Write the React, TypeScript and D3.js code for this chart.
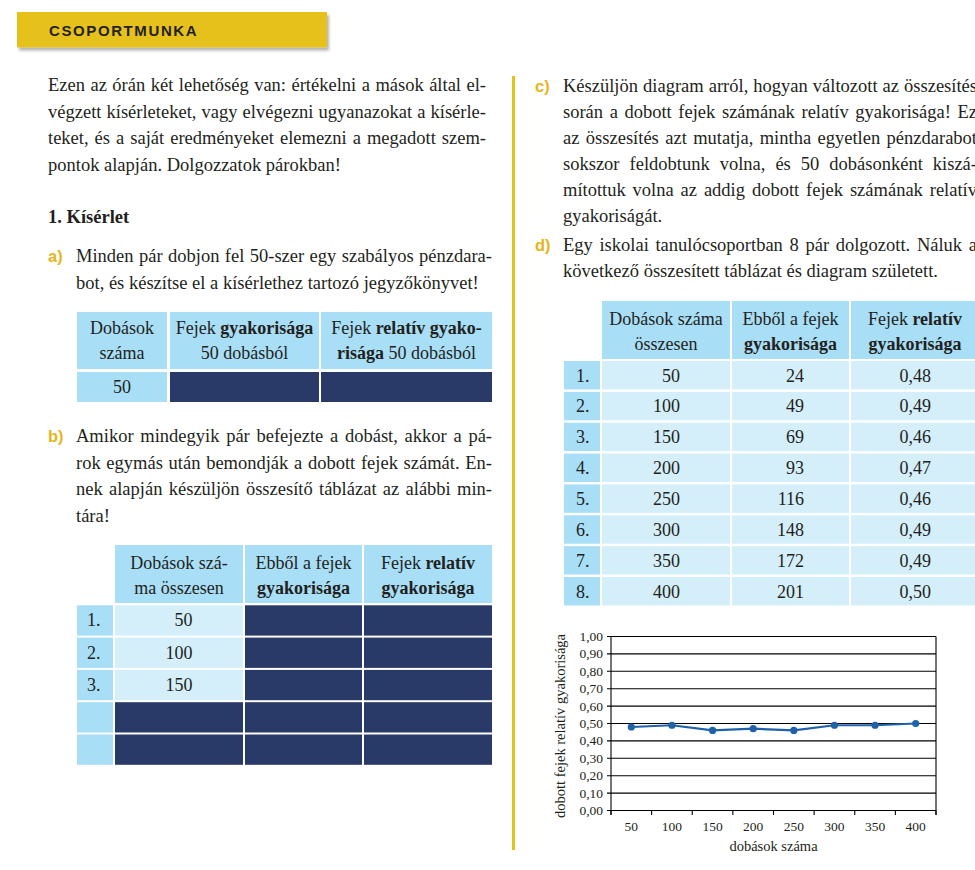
import React from 'react';
import * as d3 from 'd3';

// ---------- data ----------
const totals = [50, 100, 150, 200, 250, 300, 350, 400];
const heads = [24, 49, 69, 93, 116, 148, 172, 201];
const relFreq = [0.48, 0.49, 0.46, 0.47, 0.46, 0.49, 0.49, 0.5];
const rowLabels = ['1.', '2.', '3.', '4.', '5.', '6.', '7.', '8.'];
const practiceTotals = [50, 100, 150];
const yTickValues = d3.range(0, 11).map((i) => i / 10);
const yAxisTitle = 'dobott fejek relatív gyakorisága';
const xAxisTitle = 'dobások száma';

const introLines = [
  'Ezen az órán két lehetőség van: értékelni a mások által el-',
  'végzett kísérleteket, vagy elvégezni ugyanazokat a kísérle-',
  'teket, és a saját eredményeket elemezni a megadott szem-',
  'pontok alapján. Dolgozzatok párokban!',
];
const aLines = [
  'Minden pár dobjon fel 50-szer egy szabályos pénzdara-',
  'bot, és készítse el a kísérlethez tartozó jegyzőkönyvet!',
];
const bLines = [
  'Amikor mindegyik pár befejezte a dobást, akkor a pá-',
  'rok egymás után bemondják a dobott fejek számát. En-',
  'nek alapján készüljön összesítő táblázat az alábbi min-',
  'tára!',
];
const cLines = [
  'Készüljön diagram arról, hogyan változott az összesítés',
  'során a dobott fejek számának relatív gyakorisága! Ez',
  'az összesítés azt mutatja, mintha egyetlen pénzdarabot',
  'sokszor feldobtunk volna, és 50 dobásonként kiszá-',
  'mítottuk volna az addig dobott fejek számának relatív',
  'gyakoriságát.',
];
const dLines = [
  'Egy iskolai tanulócsoportban 8 pár dolgozott. Náluk a',
  'következő összesített táblázat és diagram született.',
];

// ---------- styles ----------
const SERIF = "'Liberation Serif', 'Times New Roman', serif";
const SANS = "'Liberation Sans', Arial, sans-serif";
const BODY = 18.5;
const TEXT = '#231f20';
const HEAD_BG = '#a8def6';
const LIGHT_BG = '#d4eefa';
const NAVY = '#2a3a68';
const YELLOW = '#e6c11e';
const LABEL_Y = '#e8b41c';
const BLUE = '#1f62aa';

const canvas = typeof document !== 'undefined' ? document.createElement('canvas') : null;
const ctx = canvas ? canvas.getContext('2d') : null;
function measure(t: string, font: string) {
  if (!ctx) return t.length * 8;
  ctx.font = font;
  return ctx.measureText(t).width;
}

function Para({ lines, x, right, baselines, keyp }: any) {
  const font = `${BODY}px ${SERIF}`;
  const sp = measure(' ', font);
  const out: any[] = [];
  lines.forEach((line: string, i: number) => {
    const words = line.split(' ');
    const ws = words.map((w) => measure(w, font));
    const sum = d3.sum(ws);
    const justify = i < lines.length - 1 && words.length > 1;
    const gap = justify ? (right - x - sum) / (words.length - 1) : sp;
    let cx = x;
    words.forEach((w, j) => {
      out.push(
        <text key={`${keyp}-${i}-${j}`} x={cx} y={baselines[i]} fontFamily={SERIF} fontSize={BODY} fill={TEXT}>
          {w}
        </text>
      );
      cx += ws[j] + gap;
    });
  });
  return <g>{out}</g>;
}

type Seg = { t: string; b?: boolean };
function HeaderText({ cx, baselines, lines }: { cx: number; baselines: number[]; lines: Seg[][] }) {
  return (
    <g>
      {lines.map((segs, i) => (
        <text key={i} x={cx} y={baselines[i]} textAnchor="middle" fontFamily={SERIF} fontSize={18} fill={TEXT}>
          {segs.map((s, j) => (
            <tspan key={j} fontWeight={s.b ? 'bold' : 'normal'}>
              {s.t}
            </tspan>
          ))}
        </text>
      ))}
    </g>
  );
}

const fmt = (v: number) => d3.format('.2f')(v).replace('.', ',');

export default function App() {
  // ---------- chart ----------
  const x = d3.scaleBand<string>().domain(totals.map(String)).range([611, 936]).padding(0);
  const y = d3.scaleLinear().domain([0, 1]).range([810.5, 636.5]);
  const bw = x.bandwidth();
  const pts = totals.map((t, i) => ({ t, v: relFreq[i] }));
  const lineGen = d3
    .line<{ t: number; v: number }>()
    .x((d) => (x(String(d.t)) as number) + bw / 2)
    .y((d) => y(d.v));
  const xTickPos = [...totals.map((t) => x(String(t)) as number), 936];

  // ---------- tables ----------
  const t1Cols = [
    [77, 167],
    [170, 319],
    [321, 492],
  ];
  const t2Cols = [
    [77, 113],
    [115, 243],
    [245, 362],
    [364, 492],
  ];
  const t3Cols = [
    [564, 600],
    [602, 730],
    [732, 849],
    [851, 990],
  ];
  const cxOf = (c: number[]) => (c[0] + c[1]) / 2;

  return (
    <div style={{ position: 'absolute', left: 0, top: 0 }}>
      <svg width={975} height={870} style={{ display: 'block', background: '#fff' }}>
        <defs>
          <filter id="sh" x="-5%" y="-20%" width="115%" height="160%">
            <feDropShadow dx="2" dy="3" stdDeviation="1.6" floodColor="#000" floodOpacity="0.3" />
          </filter>
        </defs>

        {/* title box */}
        <rect x={17} y={12} width={310} height={35.5} fill={YELLOW} filter="url(#sh)" />
        <text x={49} y={35.7} fontFamily={SANS} fontWeight="bold" fontSize={15} letterSpacing={1.6} fill="#231f20">
          CSOPORTMUNKA
        </text>

        {/* left column text */}
        <Para keyp="intro" lines={introLines} x={48} right={486} baselines={[91, 117.5, 144, 170.5]} />
        <text x={48} y={223} fontFamily={SERIF} fontWeight="bold" fontSize={BODY} fill={TEXT}>
          1. Kísérlet
        </text>
        <text x={48} y={262} fontFamily={SANS} fontWeight="bold" fontSize={16.5} fill={LABEL_Y}>
          a)
        </text>
        <Para keyp="a" lines={aLines} x={76} right={492} baselines={[262, 288.5]} />
        <text x={48} y={442} fontFamily={SANS} fontWeight="bold" fontSize={16.5} fill={LABEL_Y}>
          b)
        </text>
        <Para keyp="b" lines={bLines} x={76} right={492} baselines={[442, 468.5, 495, 521.5]} />

        {/* table 1 */}
        <g>
          {t1Cols.map((c, i) => (
            <rect key={'h' + i} x={c[0]} y={312} width={c[1] - c[0]} height={57} fill={HEAD_BG} />
          ))}
          {t1Cols.map((c, i) => (
            <rect key={'r' + i} x={c[0]} y={372} width={c[1] - c[0]} height={30} fill={i === 0 ? HEAD_BG : NAVY} />
          ))}
          <HeaderText cx={cxOf(t1Cols[0])} baselines={[334, 359]} lines={[[{ t: 'Dobások' }], [{ t: 'száma' }]]} />
          <HeaderText
            cx={cxOf(t1Cols[1])}
            baselines={[334, 359]}
            lines={[[{ t: 'Fejek ' }, { t: 'gyakorisága', b: true }], [{ t: '50 dobásból' }]]}
          />
          <HeaderText
            cx={cxOf(t1Cols[2])}
            baselines={[334, 359]}
            lines={[
              [{ t: 'Fejek ' }, { t: 'relatív gyako-', b: true }],
              [{ t: 'risága', b: true }, { t: ' 50 dobásból' }],
            ]}
          />
          <text x={cxOf(t1Cols[0])} y={393} textAnchor="middle" fontFamily={SERIF} fontSize={18} fill={TEXT}>
            {practiceTotals[0]}
          </text>
        </g>

        {/* table 2 */}
        <g>
          {t2Cols.slice(1).map((c, i) => (
            <rect key={'h' + i} x={c[0]} y={545} width={c[1] - c[0]} height={58} fill={HEAD_BG} />
          ))}
          <HeaderText cx={cxOf(t2Cols[1])} baselines={[569, 594]} lines={[[{ t: 'Dobások szá-' }], [{ t: 'ma összesen' }]]} />
          <HeaderText
            cx={cxOf(t2Cols[2])}
            baselines={[569, 594]}
            lines={[[{ t: 'Ebből a fejek' }], [{ t: 'gyakorisága', b: true }]]}
          />
          <HeaderText
            cx={cxOf(t2Cols[3])}
            baselines={[569, 594]}
            lines={[[{ t: 'Fejek ' }, { t: 'relatív', b: true }], [{ t: 'gyakorisága', b: true }]]}
          />
          {d3.range(5).map((r) => {
            const top = 605.3 + r * 32.3;
            const known = r < practiceTotals.length;
            return (
              <g key={r}>
                {t2Cols.map((c, i) => (
                  <rect
                    key={i}
                    x={c[0]}
                    y={top}
                    width={c[1] - c[0]}
                    height={30.3}
                    fill={i === 0 ? HEAD_BG : i === 1 && known ? LIGHT_BG : NAVY}
                  />
                ))}
                {known && (
                  <>
                    <text x={87} y={top + 21} fontFamily={SERIF} fontSize={18} fill={TEXT}>
                      {rowLabels[r]}
                    </text>
                    <text x={192.5} y={top + 21} textAnchor="end" fontFamily={SERIF} fontSize={18} fill={TEXT}>
                      {practiceTotals[r]}
                    </text>
                  </>
                )}
              </g>
            );
          })}
        </g>

        {/* yellow vertical rule */}
        <rect x={512} y={76} width={3} height={774} fill={YELLOW} />

        {/* right column text */}
        <text x={535} y={91.5} fontFamily={SANS} fontWeight="bold" fontSize={16.5} fill={LABEL_Y}>
          c)
        </text>
        <Para keyp="c" lines={cLines} x={563} right={977} baselines={[91.5, 117.6, 143.7, 169.8, 195.9, 222]} />
        <text x={535} y={250.5} fontFamily={SANS} fontWeight="bold" fontSize={16.5} fill={LABEL_Y}>
          d)
        </text>
        <Para keyp="d" lines={dLines} x={563} right={977} baselines={[250.5, 276.5]} />

        {/* table 3 */}
        <g>
          {t3Cols.slice(1).map((c, i) => (
            <rect key={'h' + i} x={c[0]} y={301} width={c[1] - c[0]} height={58} fill={HEAD_BG} />
          ))}
          <HeaderText cx={cxOf(t3Cols[1])} baselines={[325, 349.5]} lines={[[{ t: 'Dobások száma' }], [{ t: 'összesen' }]]} />
          <HeaderText
            cx={cxOf(t3Cols[2])}
            baselines={[325, 349.5]}
            lines={[[{ t: 'Ebből a fejek' }], [{ t: 'gyakorisága', b: true }]]}
          />
          <HeaderText
            cx={915}
            baselines={[325, 349.5]}
            lines={[[{ t: 'Fejek ' }, { t: 'relatív', b: true }], [{ t: 'gyakorisága', b: true }]]}
          />
          {totals.map((t, r) => {
            const top = 361 + r * 30.86;
            return (
              <g key={r}>
                {t3Cols.map((c, i) => (
                  <rect key={i} x={c[0]} y={top} width={c[1] - c[0]} height={28.4} fill={i === 0 ? HEAD_BG : LIGHT_BG} />
                ))}
                <text x={576} y={top + 20.5} fontFamily={SERIF} fontSize={18} fill={TEXT}>
                  {rowLabels[r]}
                </text>
                <text x={680} y={top + 20.5} textAnchor="end" fontFamily={SERIF} fontSize={18} fill={TEXT}>
                  {t}
                </text>
                <text x={804} y={top + 20.5} textAnchor="end" fontFamily={SERIF} fontSize={18} fill={TEXT}>
                  {heads[r]}
                </text>
                <text x={931} y={top + 20.5} textAnchor="end" fontFamily={SERIF} fontSize={18} fill={TEXT}>
                  {fmt(relFreq[r])}
                </text>
              </g>
            );
          })}
        </g>

        {/* chart */}
        <g>
          {yTickValues.map((v) => (
            <g key={v}>
              <line x1={607} x2={936} y1={y(v)} y2={y(v)} stroke="#000" strokeWidth={1.1} />
              <text
                x={603}
                y={y(v) + 4.5}
                textAnchor="end"
                fontFamily={SERIF}
                fontSize={13.5}
                fill={TEXT}
              >
                {fmt(v)}
              </text>
            </g>
          ))}
          <line x1={611} x2={611} y1={y(1)} y2={y(0) + 4.5} stroke="#000" strokeWidth={1.1} />
          <line x1={936} x2={936} y1={y(1)} y2={y(0) + 4.5} stroke="#000" strokeWidth={1.1} />
          {xTickPos.map((p, i) => (
            <line key={i} x1={p} x2={p} y1={y(0)} y2={y(0) + 4.5} stroke="#000" strokeWidth={1.1} />
          ))}
          {totals.map((t) => (
            <text
              key={t}
              x={(x(String(t)) as number) + bw / 2}
              y={831}
              textAnchor="middle"
              fontFamily={SERIF}
              fontSize={13.5}
              fill={TEXT}
            >
              {t}
            </text>
          ))}
          <text x={773.5} y={850.5} textAnchor="middle" fontFamily={SERIF} fontSize={14.5} fill={TEXT}>
            {xAxisTitle}
          </text>
          <text
            transform={`translate(564.5, 726) rotate(-90)`}
            textAnchor="middle"
            fontFamily={SERIF}
            fontSize={14.5}
            fill={TEXT}
          >
            {yAxisTitle}
          </text>
          <path d={lineGen(pts) as string} fill="none" stroke={BLUE} strokeWidth={2.2} />
          {pts.map((p) => (
            <circle key={p.t} cx={(x(String(p.t)) as number) + bw / 2} cy={y(p.v)} r={3.6} fill={BLUE} />
          ))}
        </g>
      </svg>
    </div>
  );
}
